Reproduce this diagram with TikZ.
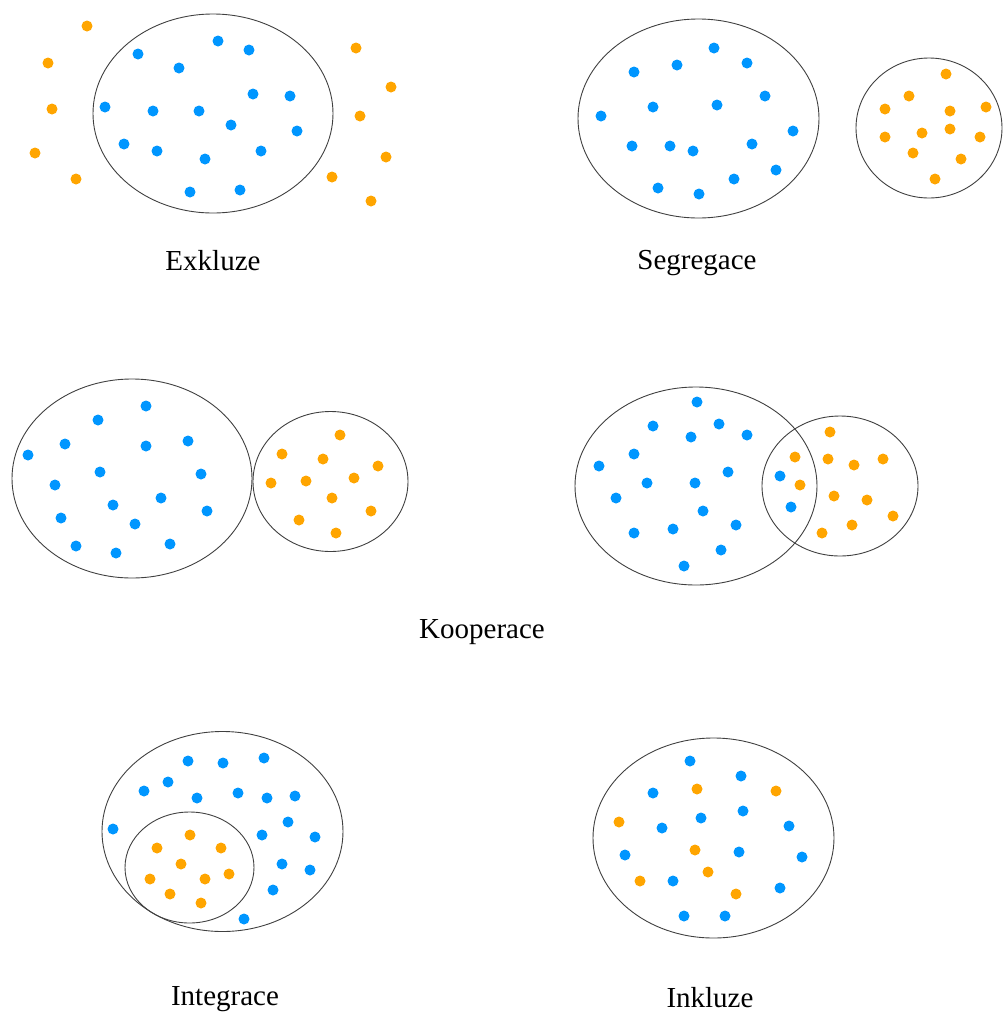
\documentclass[tikz,border=0pt]{standalone}
\usepackage{fontspec}
\setmainfont{Liberation Serif}
\usetikzlibrary{positioning}
\definecolor{dotblue}{RGB}{0,150,255}
\definecolor{dotorange}{RGB}{255,165,0}
\tikzset{
  group/.style={draw=black!75, line width=0.9pt},
  bdot/.style={fill=dotblue},
  odot/.style={fill=dotorange},
  caption/.style={font=\fontsize{29}{34}\selectfont, inner sep=0pt, anchor=base},
}
\begin{document}
\begin{tikzpicture}[x=1pt, y=-1pt]
  \useasboundingbox (0,0) rectangle (1003,1013);

  % Exkluze
  \draw[group] (213,113.5) ellipse [x radius=120pt, y radius=99.5pt];
  \foreach \x/\y in {218/41, 249/50, 138/54, 179/68, 253/94, 290/96, 105/107, 153/111,
                     199/111, 231/125, 297/131, 124/144, 157/151, 261/151, 205/159, 190/192, 240/190}
    \fill[bdot] (\x,\y) circle [radius=5.5pt];
  \foreach \x/\y in {87/26, 48/63, 52/109, 35/153, 76/179, 356/48, 391/87, 360/116,
                     386/157, 332/177, 371/201}
    \fill[odot] (\x,\y) circle [radius=5.5pt];
  \node[caption] (exkluze) at (213,270) {Exkluze};

  % Segregace
  \draw[group] (698.5,118.5) ellipse [x radius=120.5pt, y radius=99.5pt];
  \draw[group] (929,128) ellipse [x radius=73pt, y radius=70pt];
  \foreach \x/\y in {714/48, 634/72, 677/65, 747/63, 765/96, 601/116, 653/107, 717/105, 793/131,
                     632/146, 670/146, 693/151, 752/144, 776/170, 658/188, 699/194, 734/179}
    \fill[bdot] (\x,\y) circle [radius=5.5pt];
  \foreach \x/\y in {946/74, 909/96, 885/109, 950/111, 986/107, 885/137, 922/133, 950/129,
                     980/137, 913/153, 961/159, 935/179}
    \fill[odot] (\x,\y) circle [radius=5.5pt];
  \node[caption] (segregace) at (697,269) {Segregace};

  % Kooperace
  \draw[group] (132,478.5) ellipse [x radius=120pt, y radius=99.5pt];
  \draw[group] (330.5,481.5) ellipse [x radius=77.5pt, y radius=70pt];
  \foreach \x/\y in {146/406, 98/420, 65/444, 28/455, 146/446, 188/441, 100/472, 201/474, 55/485,
                     161/498, 113/505, 207/511, 61/518, 135/524, 76/546, 116/553, 170/544}
    \fill[bdot] (\x,\y) circle [radius=5.5pt];
  \foreach \x/\y in {340/435, 282/454, 323/459, 378/466, 271/483, 306/481, 354/478, 332/498,
                     371/511, 299/520, 336/533}
    \fill[odot] (\x,\y) circle [radius=5.5pt];

  \draw[group] (696,486) ellipse [x radius=121pt, y radius=99pt];
  \draw[group] (840,486) ellipse [x radius=78pt, y radius=70pt];
  \foreach \x/\y in {697/402, 653/426, 719/424, 691/437, 747/435, 634/454, 599/466, 728/472,
                     647/483, 695/483, 616/498, 703/511, 736/525, 634/533, 673/529, 721/550,
                     684/566, 780/476, 791/507}
    \fill[bdot] (\x,\y) circle [radius=5.5pt];
  \foreach \x/\y in {830/432, 795/457, 828/459, 854/465, 883/459, 800/485, 834/496, 867/500,
                     893/516, 852/525, 822/533}
    \fill[odot] (\x,\y) circle [radius=5.5pt];
  \node[caption] (kooperace) at (482,638) {Kooperace};

  % Integrace
  \draw[group] (222.5,831.5) ellipse [x radius=120.5pt, y radius=100pt];
  \draw[group] (189.5,867.5) ellipse [x radius=64.5pt, y radius=55.5pt];
  \foreach \x/\y in {188/761, 223/763, 264/758, 144/791, 168/782, 197/798, 238/793, 267/798,
                     295/796, 113/829, 288/822, 262/835, 315/837, 282/864, 310/870, 273/890, 244/919}
    \fill[bdot] (\x,\y) circle [radius=5.5pt];
  \foreach \x/\y in {190/835, 157/848, 221/848, 181/864, 150/879, 205/879, 229/874, 170/894, 201/903}
    \fill[odot] (\x,\y) circle [radius=5.5pt];
  \node[caption] (integrace) at (225,1005) {Integrace};

  % Inkluze
  \draw[group] (713.5,838) ellipse [x radius=120.5pt, y radius=100pt];
  \foreach \x/\y in {690/761, 741/776, 653/793, 743/811, 701/818, 662/828, 789/826, 625/855,
                     739/852, 802/857, 673/881, 780/888, 684/916, 725/916}
    \fill[bdot] (\x,\y) circle [radius=5.5pt];
  \foreach \x/\y in {697/789, 776/791, 619/822, 695/850, 708/872, 640/881, 736/894}
    \fill[odot] (\x,\y) circle [radius=5.5pt];
  \node[caption] (inkluze) at (710,1007) {Inkluze};
\end{tikzpicture}
\end{document}
